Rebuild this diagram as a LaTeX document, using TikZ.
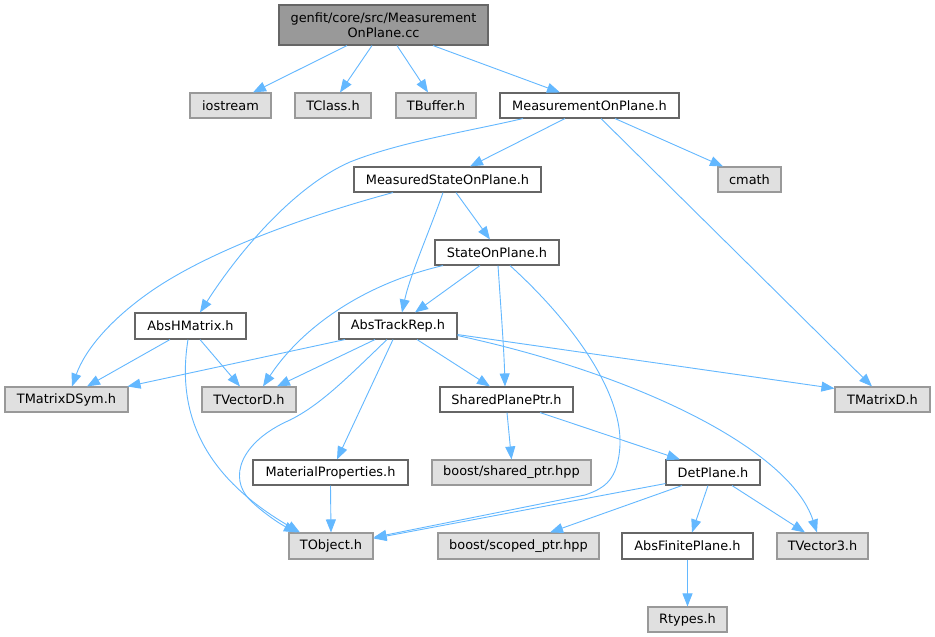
\documentclass[tikz,border=0pt]{standalone}
\usepackage{fontspec}
\newfontfamily\dvfont{DejaVu Sans}
\usetikzlibrary{arrows.meta,calc}
\definecolor{edgec}{HTML}{63B8FF}
\definecolor{darkb}{HTML}{666666}
\definecolor{lightb}{HTML}{999999}
\definecolor{sysfill}{HTML}{E0E0E0}
\definecolor{rootfill}{HTML}{999999}
\newcommand\nodefont{\dvfont\fontsize{12.9}{15}\selectfont}
\tikzset{
  box/.style={draw=darkb, fill=white, line width=1.1pt, minimum height=25pt, inner sep=0pt, font=\nodefont, anchor=center},
  sysbox/.style={box, draw=lightb, fill=sysfill},
  rootbox/.style={box, draw=darkb, fill=rootfill, minimum height=40pt, align=center},
  dep/.style={draw=edgec, line width=0.9pt, -{Triangle[length=13pt,width=10pt]}},
}
\begin{document}
\begin{tikzpicture}[x=1pt,y=-1pt]
\fill[white] (0,0) rectangle (935,637);
\useasboundingbox (0,0) rectangle (935,637);
% nodes
\node[rootbox, minimum width=209pt] (root) at (383.5,25) {genfit/core/src/Measurement\\OnPlane.cc};
\node[sysbox, minimum width=81pt] (iostream) at (230.5,105.5) {iostream};
\node[sysbox, minimum width=76pt] (TClass) at (333,105.5) {TClass.h};
\node[sysbox, minimum width=80pt] (TBuffer) at (436,105.5) {TBuffer.h};
\node[box, minimum width=179pt] (MOP) at (589.5,105.5) {MeasurementOnPlane.h};
\node[sysbox, minimum width=63pt] (cmath) at (749.5,179.5) {cmath};
\node[box, minimum width=187pt] (MSOP) at (447.5,179.5) {MeasuredStateOnPlane.h};
\node[box, minimum width=124pt] (SOP) at (497,252.5) {StateOnPlane.h};
\node[box, minimum width=111pt, minimum height=26pt] (AbsHMatrix) at (190.5,326) {AbsHMatrix.h};
\node[box, minimum width=118pt, minimum height=26pt] (AbsTrackRep) at (398,326) {AbsTrackRep.h};
\node[sysbox, minimum width=123pt] (TMatrixDSym) at (66.5,399.5) {TMatrixDSym.h};
\node[sysbox, minimum width=94pt] (TVectorD) at (249,399.5) {TVectorD.h};
\node[box, minimum width=133pt] (SPP) at (506.5,399.5) {SharedPlanePtr.h};
\node[sysbox, minimum width=95pt] (TMatrixD) at (882.5,399.5) {TMatrixD.h};
\node[box, minimum width=155pt] (MatProp) at (330.5,472.5) {MaterialProperties.h};
\node[sysbox, minimum width=159pt] (bshared) at (511.5,472.5) {boost/shared\_ptr.hpp};
\node[box, minimum width=94pt] (DetPlane) at (713,472.5) {DetPlane.h};
\node[sysbox, minimum width=84pt, minimum height=26pt] (TObject) at (331,546) {TObject.h};
\node[sysbox, minimum width=161pt, minimum height=26pt] (bscoped) at (518.5,546) {boost/scoped\_ptr.hpp};
\node[box, minimum width=131pt, minimum height=26pt] (AFP) at (687.5,546) {AbsFinitePlane.h};
\node[sysbox, minimum width=91pt, minimum height=26pt] (TVector3) at (822.5,546) {TVector3.h};
\node[sysbox, minimum width=79pt] (Rtypes) at (687.5,619.5) {Rtypes.h};
% edges from root
\draw[dep] ($(root.south)+(-36.5,0)$) -- ($(iostream.north)+(22.5,0)$);
\draw[dep] ($(root.south)+(-11.5,0)$) -- ($(TClass.north)+(7,0)$);
\draw[dep] ($(root.south)+(13.5,0)$) -- ($(TBuffer.north)+(-8,0)$);
\draw[dep] ($(root.south)+(49.5,0)$) -- ($(MOP.north)+(-29.5,0)$);
% MeasurementOnPlane.h
\draw[dep] ($(MOP.south)+(-24.5,0)$) -- ($(MSOP.north)+(22.5,0)$);
\draw[dep] ($(MOP.south)+(-66.5,0)$) .. controls (465,132) and (400,142) .. (350,162)
  .. controls (295,186) and (240,250) .. ($(AbsHMatrix.north)+(9.5,0)$);
\draw[dep] ($(MOP.south)+(25.5,0)$) -- ($(cmath.north)+(-26.5,0)$);
\draw[dep] ($(MOP.south)+(11.5,0)$) -- ($(TMatrixD.north)+(-10.5,0)$);
% MeasuredStateOnPlane.h
\draw[dep] ($(MSOP.south)+(-54.5,0)$) .. controls (310,215) and (210,250) .. (150,292)
  .. controls (110,320) and (85,350) .. ($(TMatrixDSym.north)+(5.5,0)$);
\draw[dep] ($(MSOP.south)+(-4.5,0)$) .. controls (430,230) and (410,275) .. ($(AbsTrackRep.north)+(4,0)$);
\draw[dep] ($(MSOP.south)+(8.5,0)$) -- ($(SOP.north)+(-7,0)$);
% StateOnPlane.h
\draw[dep] ($(SOP.south)+(-17,0)$) -- ($(AbsTrackRep.north)+(17,0)$);
\draw[dep] ($(SOP.south)+(-54,0)$) .. controls (360,285) and (300,330) .. ($(TVectorD.north)+(14,0)$);
\draw[dep] ($(SOP.south)+(1,0)$) .. controls (501,310) and (504,350) .. ($(SPP.north)+(-1.5,0)$);
\draw[dep] ($(SOP.south)+(13,0)$) .. controls (570,320) and (622,390) .. (620,445)
  .. controls (618,480) and (605,488) .. (585,495) -- ($(TObject.north east)+(0,5)$);
% AbsHMatrix.h
\draw[dep] ($(AbsHMatrix.south)+(-20.5,0)$) -- ($(TMatrixDSym.north)+(20.5,0)$);
\draw[dep] ($(AbsHMatrix.south)+(9.5,0)$) -- ($(TVectorD.north)+(-9,0)$);
\draw[dep] ($(AbsHMatrix.south)+(-2.5,0)$) .. controls (175,420) and (210,480) .. ($(TObject.north)+(-31,0)$);
% AbsTrackRep.h
\draw[dep] ($(AbsTrackRep.south)+(-53,0)$) -- ($(TMatrixDSym.north east)+(-1,0)$);
\draw[dep] ($(AbsTrackRep.south)+(-23,0)$) -- ($(TVectorD.north)+(28,0)$);
\draw[dep] ($(AbsTrackRep.south)+(-11,0)$) .. controls (345,380) and (320,405) .. (290,420)
  .. controls (240,442) and (228,478) .. (250,500)
  .. controls (262,512) and (280,524) .. ($(TObject.north)+(-34,0)$);
\draw[dep] ($(AbsTrackRep.south)+(-5,0)$) -- ($(MatProp.north)+(6.5,0)$);
\draw[dep] ($(AbsTrackRep.south)+(19,0)$) -- ($(SPP.north)+(-16.5,0)$);
\draw[dep] ($(AbsTrackRep.south east)+(0,-5)$) -- ($(TMatrixD.north west)+(0,2)$);
\draw[dep] ($(AbsTrackRep.south east)+(0,-4)$) .. controls (640,375) and (790,450) .. ($(TVector3.north)+(-5.5,0)$);
% MaterialProperties.h
\draw[dep] (MatProp.south) -- (TObject.north);
% SharedPlanePtr.h
\draw[dep] ($(SPP.south)+(0.5,0)$) -- (bshared.north);
\draw[dep] ($(SPP.south)+(33.5,0)$) -- ($(DetPlane.north)+(-33,0)$);
% DetPlane.h
\draw[dep] ($(DetPlane.south west)+(0,-2)$) -- ($(TObject.north east)+(0,6)$);
\draw[dep] ($(DetPlane.south)+(-31,0)$) -- ($(bscoped.north)+(31.5,0)$);
\draw[dep] ($(DetPlane.south)+(-5,0)$) -- ($(AFP.north)+(4.5,0)$);
\draw[dep] ($(DetPlane.south)+(19,0)$) -- ($(TVector3.north)+(-17.5,0)$);
% AbsFinitePlane.h
\draw[dep] (AFP.south) -- (Rtypes.north);
\end{tikzpicture}
\end{document}
